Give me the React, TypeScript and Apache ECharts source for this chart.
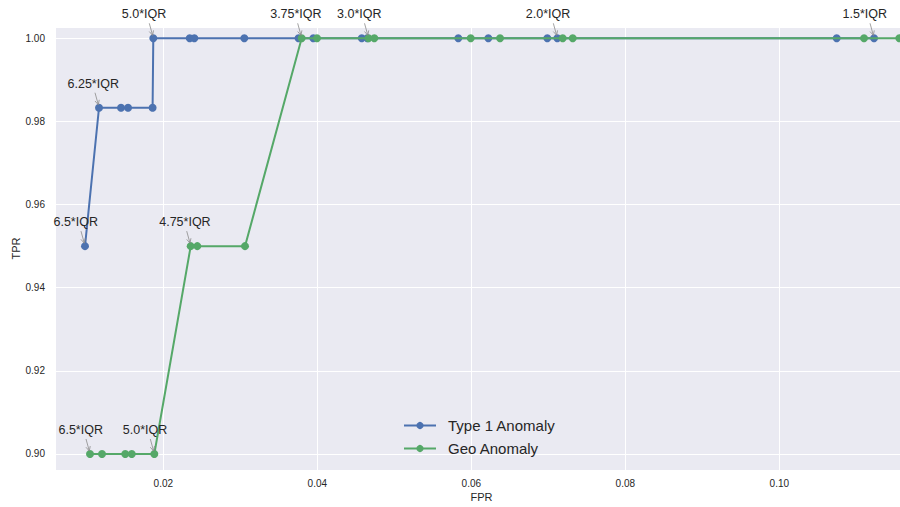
import React, { useEffect, useRef } from "react";
import * as echarts from "echarts";

const type1Fpr = [0.00983, 0.01165, 0.01451, 0.01542, 0.01861, 0.0187, 0.02343, 0.02403, 0.03052, 0.03756, 0.03948, 0.04577, 0.04649, 0.05831, 0.06221, 0.06987, 0.07117, 0.10745, 0.1123];
const type1Tpr = [0.95, 0.9833, 0.9833, 0.9833, 0.9833, 1, 1, 1, 1, 1, 1, 1, 1, 1, 1, 1, 1, 1, 1];

const geoFpr = [0.01048, 0.01204, 0.01506, 0.0159, 0.01883, 0.02356, 0.02442, 0.03061, 0.03797, 0.03996, 0.04665, 0.0474, 0.05992, 0.06373, 0.07187, 0.07317, 0.111, 0.11558];
const geoTpr = [0.9, 0.9, 0.9, 0.9, 0.9, 0.95, 0.95, 0.95, 1, 1, 1, 1, 1, 1, 1, 1, 1, 1];

const annoFpr = [0.00983, 0.01165, 0.0187, 0.03797, 0.04665, 0.07117, 0.1123, 0.01048, 0.01883, 0.02356];
const annoTpr = [0.95, 0.9833, 1, 1, 1, 1, 1, 0.9, 0.9, 0.95];
const annoLabel = ["6.5*IQR", "6.25*IQR", "5.0*IQR", "3.75*IQR", "3.0*IQR", "2.0*IQR", "1.5*IQR", "6.5*IQR", "5.0*IQR", "4.75*IQR"];

const seriesNames = ["Type 1 Anomaly", "Geo Anomaly"];
const colors = ["#4C72B0", "#55A868"];

const FONT = '"Liberation Sans", Arial, sans-serif';
const TEXT = "#262626";

function isTick(v: number) {
  const k = v / 0.02;
  return Math.abs(k - Math.round(k)) < 1e-6;
}

export default function App() {
  const ref = useRef<HTMLDivElement>(null);
  useEffect(() => {
    if (!ref.current) return;
    const chart = echarts.init(ref.current, null, { renderer: "svg" });
    const zip = (a: number[], b: number[]) => a.map((v, i) => [v, b[i]]);
    chart.setOption({
      animation: false,
      textStyle: { fontFamily: FONT },
      grid: {
        left: 55,
        top: 27,
        width: 853,
        height: 443,
        show: true,
        backgroundColor: "#EAEAF2",
        borderWidth: 0,
        containLabel: false,
        outerBoundsMode: "none",
      },
      legend: {
        data: seriesNames,
        orient: "vertical",
        left: 398,
        top: 413,
        itemWidth: 32,
        itemHeight: 9,
        itemGap: 8,
        textStyle: { fontSize: 15, color: TEXT, fontFamily: FONT, padding: [0, 0, 0, 7] },
      },
      xAxis: {
        type: "value",
        min: 0.005935,
        max: 0.11671,
        splitNumber: 5,
        name: "FPR",
        nameLocation: "middle",
        nameGap: 21,
        nameMoveOverlap: false,
        nameTextStyle: { fontSize: 11, color: TEXT, fontFamily: FONT, verticalAlign: "top" },
        axisLine: { show: false },
        axisTick: { show: false },
        axisLabel: {
          fontSize: 10,
          color: TEXT,
          margin: 8,
          fontFamily: FONT,
          showMinLabel: false,
          showMaxLabel: false,
          formatter: (v: number) => (isTick(v) ? v.toFixed(2) : ""),
        },
        splitLine: { show: true, lineStyle: { color: "#FFFFFF", width: 1 } },
      },
      yAxis: {
        type: "value",
        min: 0.89615,
        max: 1.00272,
        splitNumber: 5,
        name: "TPR",
        nameLocation: "middle",
        nameGap: 34,
        nameMoveOverlap: false,
        nameRotate: 90,
        nameTextStyle: { fontSize: 11, color: TEXT, fontFamily: FONT },
        axisLine: { show: false },
        axisTick: { show: false },
        axisLabel: {
          fontSize: 10,
          color: TEXT,
          margin: 10,
          fontFamily: FONT,
          showMinLabel: false,
          showMaxLabel: false,
          formatter: (v: number) => (isTick(v) ? v.toFixed(2) : ""),
        },
        splitLine: { show: true, lineStyle: { color: "#FFFFFF", width: 1 } },
      },
      series: [
        {
          name: seriesNames[0],
          type: "line",
          data: zip(type1Fpr, type1Tpr),
          symbol: "circle",
          symbolSize: 8,
          showAllSymbol: true,
          color: colors[0],
          lineStyle: { width: 2, color: colors[0] },
          itemStyle: { color: colors[0] },
          z: 2,
        },
        {
          name: seriesNames[1],
          type: "line",
          data: zip(geoFpr, geoTpr),
          symbol: "circle",
          symbolSize: 8,
          showAllSymbol: true,
          color: colors[1],
          lineStyle: { width: 2, color: colors[1] },
          itemStyle: { color: colors[1] },
          z: 3,
        },
        {
          name: "annotations",
          type: "custom",
          clip: false,
          silent: true,
          z: 5,
          data: zip(annoFpr, annoTpr),
          renderItem: (params: any, api: any) => {
            const p = api.coord([api.value(0), api.value(1)]);
            const x1 = p[0] - 4, y1 = p[1] - 15;
            const x2 = p[0] - 0.7, y2 = p[1] - 3;
            const dx = x2 - x1, dy = y2 - y1;
            const len = Math.sqrt(dx * dx + dy * dy);
            const ux = dx / len, uy = dy / len;
            const hl = 4.5, hw = 2.2;
            const bx = x2 - ux * hl, by = y2 - uy * hl;
            const head = [
              [bx - uy * hw, by + ux * hw],
              [x2, y2],
              [bx + uy * hw, by - ux * hw],
            ];
            return {
              type: "group",
              children: [
                {
                  type: "text",
                  x: p[0] - 31.5,
                  y: p[1] - 24,
                  style: {
                    text: annoLabel[params.dataIndex],
                    fill: TEXT,
                    font: `12.5px ${FONT}`,
                    textAlign: "left",
                    textVerticalAlign: "middle",
                  },
                },
                {
                  type: "line",
                  shape: { x1, y1, x2, y2 },
                  style: { stroke: "#8a8a8a", lineWidth: 0.8 },
                },
                {
                  type: "polyline",
                  shape: { points: head },
                  style: { stroke: "#8a8a8a", fill: null, lineWidth: 0.8 },
                },
              ],
            };
          },
        },
      ],
    });
    return () => chart.dispose();
  }, []);
  return <div ref={ref} style={{ width: 900, height: 507, position: "absolute", left: 0, top: 0 }} />;
}
